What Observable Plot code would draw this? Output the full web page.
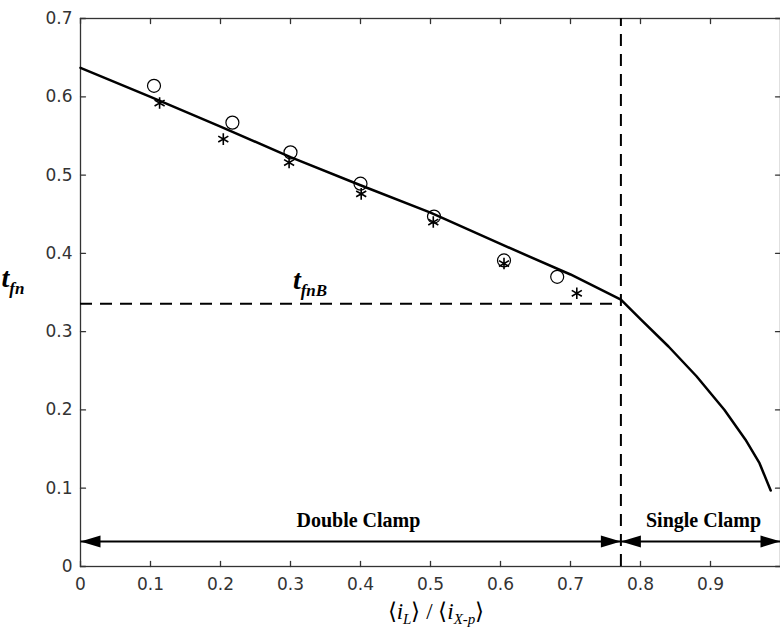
<!DOCTYPE html>
<html><head><meta charset="utf-8">
<script src="https://cdn.jsdelivr.net/npm/d3@7"></script>
<script src="https://cdn.jsdelivr.net/npm/@observablehq/plot@0.6"></script>
<style>body{margin:0;background:#fff} #chart{width:780px;height:634px;overflow:hidden}</style>
</head><body><div id="chart"></div>
<script>
// model curve t_fn vs <iL>/<iX-p>
const curveX = [0, 0.1, 0.2, 0.3, 0.4, 0.5, 0.6, 0.7, 0.772, 0.8, 0.84, 0.88, 0.92, 0.95, 0.97, 0.986];
const curveY = [0.637, 0.600, 0.562, 0.523, 0.487, 0.452, 0.412, 0.373, 0.341, 0.316, 0.281, 0.243, 0.200, 0.162, 0.132, 0.097];
// measured points (circles)
const circX = [0.105, 0.217, 0.300, 0.400, 0.505, 0.605, 0.681];
const circY = [0.614, 0.567, 0.529, 0.489, 0.447, 0.391, 0.370];
// measured points (asterisks)
const starX = [0.113, 0.204, 0.298, 0.401, 0.504, 0.605, 0.709];
const starY = [0.592, 0.546, 0.516, 0.476, 0.440, 0.387, 0.349];
// boundary
const tfnB = 0.3355;
const boundaryX = 0.772;
const arrowY = 0.032;
const regionLabels = ["Double Clamp", "Single Clamp"];
const regionLabelX = [0.397, 0.89];
const regionLabelY = 0.05;
const xTicks = [0, 0.1, 0.2, 0.3, 0.4, 0.5, 0.6, 0.7, 0.8, 0.9];
const yTicks = [0, 0.1, 0.2, 0.3, 0.4, 0.5, 0.6, 0.7];

const curve = curveX.map((x, i) => ({x, y: curveY[i]}));
const circ = circX.map((x, i) => ({x, y: circY[i]}));
const star = starX.map((x, i) => ({x, y: starY[i]}));
const fmt = d => d === 0 ? "0" : d.toFixed(1);
const headShape = {draw(ctx, l, r) { ctx.moveTo(0, -l); ctx.lineTo(-r, 0); ctx.lineTo(r, 0); ctx.closePath(); }};
const tickShape = {draw(ctx, l) { ctx.moveTo(0, 0); ctx.lineTo(0, -l); }};
const heads = [
  {x: 0, rot: -90}, {x: boundaryX, rot: 90}, {x: boundaryX, rot: -90}, {x: 1.0, rot: 90}
];
const spans = [{x1: 0, x2: boundaryX}, {x1: boundaryX, x2: 1.0}];
const serif = "Liberation Serif, Times New Roman, serif";
const axisColor = "#333";

const chart = Plot.plot({
  width: 780, height: 634,
  marginLeft: 80, marginRight: 0, marginTop: 18, marginBottom: 68,
  x: {domain: [0, 1]},
  y: {domain: [0, 0.7]},
  style: {fontFamily: "DejaVu Sans, sans-serif", fontSize: "17px", background: "white", overflow: "visible"},
  marks: [
    Plot.axisX({anchor: "bottom", ticks: xTicks, tickSize: 0, tickPadding: 11, tickFormat: fmt, color: axisColor, label: null}),
    Plot.axisY({anchor: "left", ticks: yTicks, tickSize: 0, tickPadding: 8, tickFormat: fmt, color: axisColor, label: null}),
    // inward ticks on all four sides
    Plot.vector(xTicks, {x: d => d, y: 0, length: 5, rotate: 0, anchor: "start", shape: tickShape, stroke: axisColor, strokeWidth: 1.3}),
    Plot.vector(xTicks, {x: d => d, y: 0.7, length: 5, rotate: 180, anchor: "start", shape: tickShape, stroke: axisColor, strokeWidth: 1.3}),
    Plot.vector(yTicks, {x: 0, y: d => d, length: 5, rotate: 90, anchor: "start", shape: tickShape, stroke: axisColor, strokeWidth: 1.3}),
    Plot.vector(yTicks, {x: 1, y: d => d, length: 5, rotate: -90, anchor: "start", shape: tickShape, stroke: axisColor, strokeWidth: 1.3}),
    Plot.frame({stroke: axisColor, strokeWidth: 1.3}),
    Plot.ruleY([tfnB], {x1: 0, x2: boundaryX, stroke: "black", strokeWidth: 2, strokeDasharray: "12,8"}),
    Plot.ruleX([boundaryX], {y1: 0, y2: 0.7, stroke: "black", strokeWidth: 2, strokeDasharray: "12,8"}),
    Plot.line(curve, {x: "x", y: "y", stroke: "black", strokeWidth: 2.5}),
    Plot.dot(circ, {x: "x", y: "y", r: 6.5, stroke: "black", strokeWidth: 1.2, fill: "none"}),
    Plot.dot(star, {x: "x", y: "y", symbol: "asterisk", r: 5.5, stroke: "black", strokeWidth: 1.6}),
    Plot.link(spans, {x1: "x1", x2: "x2", y1: arrowY, y2: arrowY, stroke: "black", strokeWidth: 2}),
    Plot.vector(heads, {x: "x", y: arrowY, rotate: "rot", length: 20, r: 6, anchor: "end", shape: headShape, fill: "black", stroke: "none"}),
    Plot.text(regionLabels, {x: (d, i) => regionLabelX[i], y: regionLabelY, text: d => d, fontFamily: serif, fontWeight: "bold", fontSize: 20, fill: "black", lineAnchor: "bottom"})
  ]
});
document.getElementById("chart").appendChild(chart);

const svg = d3.select(chart);
const sx = chart.scale("x"), sy = chart.scale("y");
function sub(x, y, main, subs, size, subSize) {
  const t = svg.append("text").attr("x", x).attr("y", y)
    .attr("font-family", serif).attr("font-weight", "bold").attr("fill", "black");
  t.append("tspan").attr("font-style", "italic").attr("font-size", size).text(main);
  t.append("tspan").attr("font-style", "italic").attr("font-size", subSize).attr("dy", 7).text(subs);
}
sub(13, 287, "t", "fn", 28, 17);
sub(sx.apply(0.3286), sy.apply(0.349) - 4, "t", "fnB", 28, 17);

// x-axis label  <i_L> / <i_X-p>
const xl = svg.append("text").attr("x", 436).attr("y", 619).attr("text-anchor", "middle")
  .attr("font-family", serif).attr("font-size", 23).attr("fill", "black");
xl.append("tspan").text("\u27E8");
xl.append("tspan").attr("font-style", "italic").text("i");
xl.append("tspan").attr("font-style", "italic").attr("font-size", 15).attr("dy", 5).text("L");
xl.append("tspan").attr("dy", -5).text("\u27E9 / \u27E8");
xl.append("tspan").attr("font-style", "italic").text("i");
xl.append("tspan").attr("font-style", "italic").attr("font-size", 15).attr("dy", 5).text("X-p");
xl.append("tspan").attr("dy", -5).text("\u27E9");
</script>
</body></html>
